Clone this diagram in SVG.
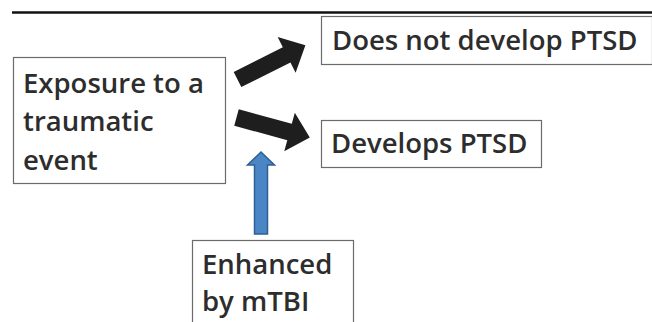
<svg xmlns="http://www.w3.org/2000/svg" width="652" height="322" viewBox="0 0 652 322">
<defs>
<style>
.box{fill:#fff;stroke:#6b6b6b;stroke-width:1.2}
.t{font-family:"Open Sans","Liberation Sans",sans-serif;font-weight:600;font-size:27.5px;fill:#2d2d2d}
.blk{fill:#1e1e1e}
.blue{fill:#4a86c5;stroke:#2f5f92;stroke-width:1.5}
</style>
<path id="fat" d="M0,-8.5 L55,-8.5 L55,-20 L76,0 L55,20 L55,8.5 L0,8.5 Z"/>
</defs>
<rect width="652" height="322" fill="#fff"/>
<line x1="12" y1="12.5" x2="652" y2="12.5" stroke="#111" stroke-width="2.5"/>
<g id="connectors">
<use href="#fat" class="blk" transform="translate(237.5,79.5) rotate(-26.7)"/>
<use href="#fat" class="blk" transform="translate(236.5,117.5) rotate(15.3)"/>
<path class="blue" d="M254.5,234 L254.5,165 L247.5,165 L261,152 L274.5,165 L267.5,165 L267.5,234 Z"/>
</g>
<g id="exposure">
<rect class="box" x="13.5" y="57.5" width="212" height="126"/>
<text class="t" x="23" y="92.5">Exposure to a</text>
<text class="t" x="23" y="131">traumatic</text>
<text class="t" x="23" y="169.5">event</text>
</g>
<g id="no-ptsd">
<rect class="box" x="321.5" y="16.5" width="331" height="48"/>
<text class="t" x="332" y="49.5">Does not develop PTSD</text>
</g>
<g id="ptsd">
<rect class="box" x="321.5" y="120.5" width="220" height="47"/>
<text class="t" x="331" y="153">Develops PTSD</text>
</g>
<g id="mtbi">
<rect class="box" x="192.5" y="240.5" width="161" height="90"/>
<text class="t" x="202" y="274">Enhanced</text>
<text class="t" x="202" y="310.5">by mTBI</text>
</g>
</svg>
